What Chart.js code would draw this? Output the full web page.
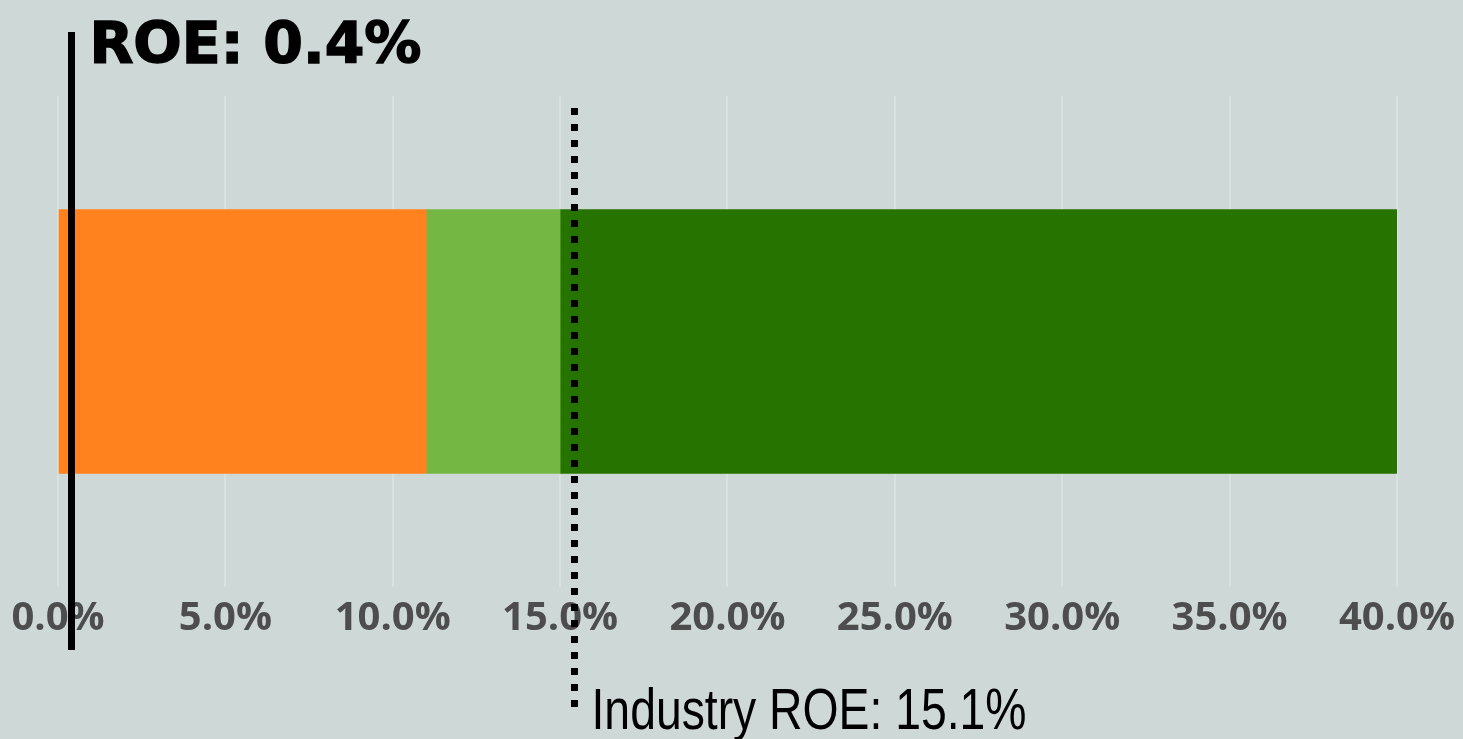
<!DOCTYPE html>
<html>
<head>
<meta charset="utf-8">
<script src="https://cdn.jsdelivr.net/npm/chart.js@4"></script>
<style>
  html, body { margin: 0; padding: 0; background: #ced9d7; }
  #wrap { width: 1463px; height: 739px; }
</style>
</head>
<body>
<div id="wrap"><canvas id="myChart"></canvas></div>
<script>
const categories = ['ROE'];
const segmentNames = ['Low', 'Mid', 'High'];
const segmentValues = [11, 4, 25];        // 0-11, 11-15, 15-40
const segmentColors = ['#ff821e', '#74b743', '#267300'];
const tickValues = [0, 5, 10, 15, 20, 25, 30, 35, 40];
const companyRoe = 0.4;
const industryRoe = 15.4;                  // where the dotted line sits in the picture
const companyLabel = 'ROE: 0.4%';
const industryLabel = 'Industry ROE: 15.1%';

// lignes verticales + textes
const markerPlugin = {
    id: 'markers',
    afterDraw(chart) {
        const ctx = chart.ctx;
        const x = chart.scales.x;
        ctx.save();

        const xc = x.getPixelForValue(companyRoe);
        ctx.fillStyle = '#000';
        ctx.strokeStyle = '#000';
        ctx.fillRect(Math.round(xc) - 3, 32, 7, 618);
        ctx.font = 'bold 57px "DejaVu Sans"';
        ctx.textBaseline = 'alphabetic';
        ctx.lineWidth = 1.5;
        ctx.fillText(companyLabel, xc + 18, 63);
        ctx.strokeText(companyLabel, xc + 18, 63);

        const xi = x.getPixelForValue(industryRoe);
        for (let y = 108; y < 712; y += 16) {
            ctx.fillRect(Math.round(xi) - 3, y, 7, 7);
        }
        // police étroite : on compresse horizontalement
        ctx.font = '58px "Liberation Sans"';
        const w = ctx.measureText(industryLabel).width;
        const sx = 435 / w;
        ctx.translate(xi + 18, 729);
        ctx.scale(sx, 1);
        ctx.fillText(industryLabel, 0, 0);
        ctx.restore();
    }
};

const ctx = document.getElementById('myChart').getContext('2d');
new Chart(ctx, {
    type: 'bar',
    data: {
        labels: categories,
        datasets: segmentNames.map((name, i) => ({
            label: name,
            data: [segmentValues[i]],
            backgroundColor: segmentColors[i],
            borderWidth: 0,
            barThickness: 264
        }))
    },
    options: {
        indexAxis: 'y',
        responsive: true,
        maintainAspectRatio: false,
        animation: false,
        layout: { padding: { left: 58, right: 66, top: 96, bottom: 88 } },
        plugins: {
            legend: { display: false },
            tooltip: { enabled: false }
        },
        scales: {
            x: {
                stacked: true,
                min: 0,
                max: 40,
                afterBuildTicks: (s) => { s.ticks = tickValues.map(v => ({ value: v })); },
                grid: { color: 'rgba(255,255,255,0.22)', lineWidth: 2, drawTicks: false },
                border: { display: false },
                ticks: {
                    padding: 8,
                    color: '#4d4d4d',
                    font: { family: '"Open Sans"', size: 40, weight: 'bold' },
                    callback: (v) => v.toFixed(1) + '%',
                    maxRotation: 0,
                    autoSkip: false
                }
            },
            y: {
                stacked: true,
                display: false
            }
        }
    },
    plugins: [markerPlugin]
});
</script>
</body>
</html>
